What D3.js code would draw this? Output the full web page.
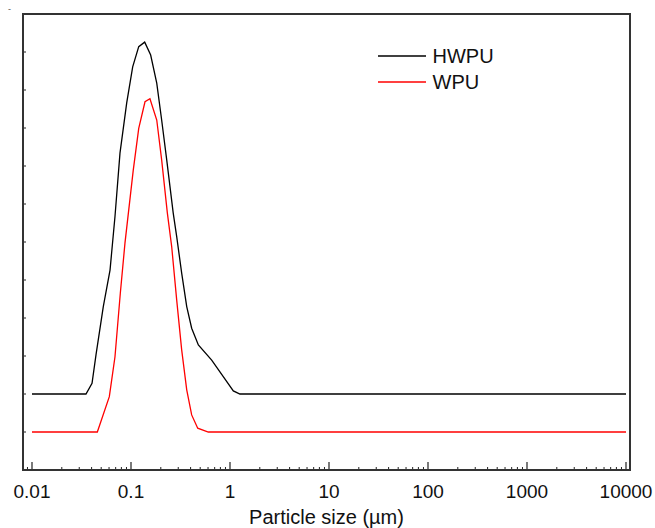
<!DOCTYPE html>
<html><head><meta charset="utf-8">
<script src="https://cdn.jsdelivr.net/npm/d3@7/dist/d3.min.js"></script>
<style>body{margin:0;background:#fff}svg{display:block}text{font-family:"Liberation Sans",Arial,sans-serif}</style>
</head><body>
<svg id="c" width="655" height="528"></svg>
<script>
const hwpuSize = [0.01,0.0351,0.0404,0.0443,0.0525,0.0614,0.0689,0.0774,0.0905,0.104,0.1197,0.1375,0.158,0.182,0.204,0.2295,0.267,0.2895,0.325,0.3655,0.410,0.479,0.653,0.855,1.08,1.26,10000];
const hwpuVal  = [2.0,2.0,2.28,3.03,4.30,5.26,6.67,8.34,9.66,10.61,11.14,11.26,10.92,10.18,9.21,8.16,6.76,6.14,5.18,4.30,3.73,3.29,2.89,2.46,2.08,2.0,2.0];
const wpuSize  = [0.01,0.0457,0.0604,0.0689,0.078,0.0869,0.1054,0.1197,0.1385,0.1554,0.182,0.204,0.233,0.2576,0.2895,0.325,0.3655,0.410,0.472,0.604,10000];
const wpuVal   = [1.0,1.0,1.93,2.98,4.65,5.97,7.89,8.99,9.69,9.77,9.21,8.16,6.76,5.88,4.47,3.16,2.11,1.45,1.10,1.0,1.0];
const xTicks = [0.01,0.1,1,10,100,1000,10000];
const xTickLabels = ["0.01","0.1","1","10","100","1000","10000"];
const seriesNames = ["HWPU","WPU"];
const seriesColors = ["#000000","#ff0000"];

const svg = d3.select("#c");
const L=23,R=630,T=14,B=470;
const x = d3.scaleLog().domain([0.01,10000]).range([32,626]);
const y = d3.scaleLinear().domain([0,12]).range([B,T]);

// stray mark
svg.append("text").attr("x",8).attr("y",12).attr("font-size",9).attr("fill","#555").text("-");

// minor x ticks
const minor=[];
for (let e=-3;e<=3;e++) for (let m=2;m<=9;m++){const v=m*Math.pow(10,e); const px=x(v); if(px>L+1&&px<R-1) minor.push(v);}
svg.append("g").selectAll("line").data(minor).join("line")
  .attr("x1",d=>x(d)).attr("x2",d=>x(d)).attr("y1",B).attr("y2",B-3)
  .attr("stroke","#222").attr("stroke-width",1);
// major x ticks
svg.append("g").selectAll("line").data(xTicks).join("line")
  .attr("x1",d=>x(d)).attr("x2",d=>x(d)).attr("y1",B).attr("y2",B-8)
  .attr("stroke","#222").attr("stroke-width",1.2);
svg.append("g").selectAll("text").data(xTicks).join("text")
  .attr("x",d=>x(d)).attr("y",497.5).attr("text-anchor","middle").attr("font-size",19).attr("fill","#111")
  .text((d,i)=>xTickLabels[i]);
// y ticks
svg.append("g").selectAll("line").data(d3.range(1,12)).join("line")
  .attr("x1",L).attr("x2",L+3).attr("y1",d=>y(d)).attr("y2",d=>y(d))
  .attr("stroke","#222").attr("stroke-width",1);

// frame
svg.append("rect").attr("x",L).attr("y",T).attr("width",R-L).attr("height",B-T)
  .attr("fill","none").attr("stroke","#333").attr("stroke-width",2);

const line = d3.line().x(d=>x(d[0])).y(d=>y(d[1]));
[[hwpuSize,hwpuVal],[wpuSize,wpuVal]].forEach((s,i)=>{
  svg.append("path").datum(s[0].map((v,j)=>[v,s[1][j]])).attr("d",line)
    .attr("fill","none").attr("stroke",seriesColors[i]).attr("stroke-width",1.3);
});

// legend
seriesNames.forEach((n,i)=>{
  const ly = 56 + i*26;
  svg.append("line").attr("x1",378).attr("x2",426).attr("y1",ly).attr("y2",ly)
    .attr("stroke",seriesColors[i]).attr("stroke-width",1.3);
  svg.append("text").attr("x",432.5).attr("y",ly+7).attr("font-size",20).attr("fill","#111").text(n);
});

svg.append("text").attr("x",326.5).attr("y",524.3).attr("text-anchor","middle").attr("font-size",20).attr("fill","#111")
  .text("Particle size (µm)");
</script>
</body></html>
